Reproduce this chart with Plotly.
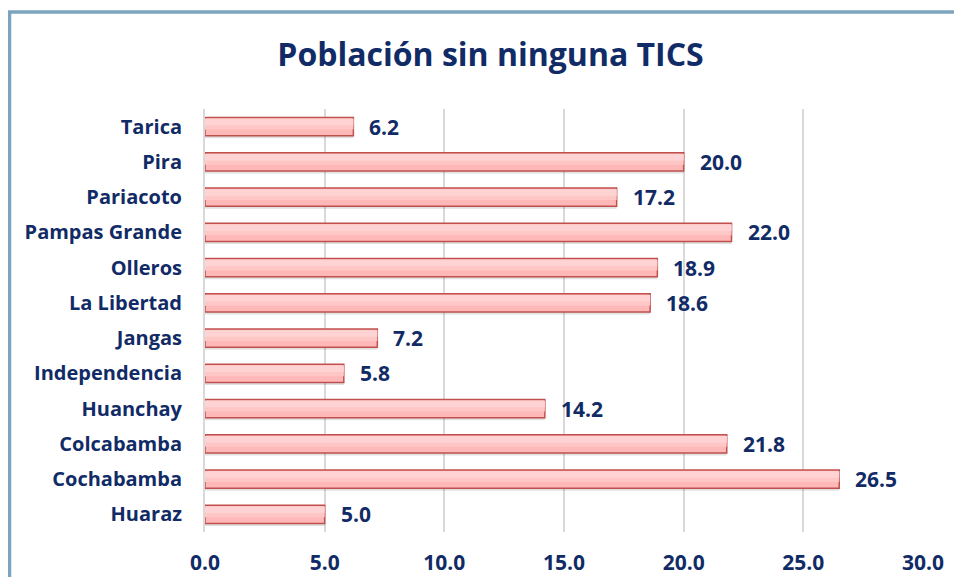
import plotly.graph_objects as go

categories = ["Huaraz", "Cochabamba", "Colcabamba", "Huanchay", "Independencia",
              "Jangas", "La Libertad", "Olleros", "Pampas Grande", "Pariacoto",
              "Pira", "Tarica"]
values = [5.0, 26.5, 21.8, 14.2, 5.8, 7.2, 18.6, 18.9, 22.0, 17.2, 20.0, 6.2]
x_ticks = [0, 5, 10, 15, 20, 25, 30]
title_text = "Población sin ninguna TICS"

navy = "#112B66"
font_family = "Open Sans"

# page body has an 8px margin on every side; size the figure so no scrollbars appear
SH = 8
W, H = 962 - 2 * SH, 585 - 2 * SH
L, R, T, B = 205 - SH, W - (923 - SH), 109 - SH, H - (532 - SH)
pw, ph = W - L - R, H - T - B

BW = 0.52

fig = go.Figure()
# soft shadow
fig.add_trace(go.Bar(
    y=categories, x=values, orientation="h",
    marker=dict(color="rgba(0,0,0,0.12)", line=dict(width=0)),
    width=BW, offset=-BW / 2 - 0.07, hoverinfo="skip",
))
# main bar
fig.add_trace(go.Bar(
    y=categories, x=values, orientation="h",
    marker=dict(color="#FFB8B8", line=dict(color="#C0504D", width=1.5)),
    width=BW, offset=-BW / 2, hoverinfo="x+y",
))
# lighter upper bands (gradient imitation)
fig.add_trace(go.Bar(
    y=categories, x=values, orientation="h",
    marker=dict(color="#FFC6C6", line=dict(width=0)),
    width=0.3, offset=-0.08, hoverinfo="skip",
))
fig.add_trace(go.Bar(
    y=categories, x=values, orientation="h",
    marker=dict(color="#FFD3D3", line=dict(width=0)),
    width=0.18, offset=0.04, hoverinfo="skip",
))

for c, v in zip(categories, values):
    fig.add_annotation(x=v, y=c, text=f"{v:.1f}", showarrow=False,
                       xanchor="left", xshift=14,
                       font=dict(family=font_family, size=21, color=navy, weight="bold"))

def px_to_paper_x(px):
    return (px - SH - L) / pw

def px_to_paper_y(py):
    return (H - B - (py - SH)) / ph

fig.add_shape(type="rect", xref="paper", yref="paper",
              x0=px_to_paper_x(9.5), x1=px_to_paper_x(990),
              y0=px_to_paper_y(620), y1=px_to_paper_y(12),
              line=dict(color="#7BA4BF", width=3.5), layer="below")

fig.update_layout(
    width=W, height=H,
    margin=dict(l=L, r=R, t=T, b=B, autoexpand=False),
    paper_bgcolor="white", plot_bgcolor="white",
    barmode="overlay",
    title=dict(text=title_text, x=(490.5 - SH) / W, xref="container", xanchor="center",
               y=1 - (55 - SH) / H, yref="container", yanchor="middle",
               font=dict(family=font_family, size=32, color=navy, weight="bold")),
    showlegend=False,
    xaxis=dict(range=[0, 30], tickvals=x_ticks, tickformat=".1f",
               showgrid=True, gridcolor="#D9D9D9", gridwidth=2,
               zeroline=False, showline=False, ticks="", automargin=False,
               ticklabelstandoff=16,
               tickfont=dict(family=font_family, size=21, color=navy, weight="bold")),
    yaxis=dict(showline=True, linecolor="#D9D9D9", linewidth=2,
               showgrid=False, ticks="", ticklabelstandoff=17, automargin=False,
               tickfont=dict(family=font_family, size=20, color=navy, weight="bold")),
)

fig.write_html("out.html")
